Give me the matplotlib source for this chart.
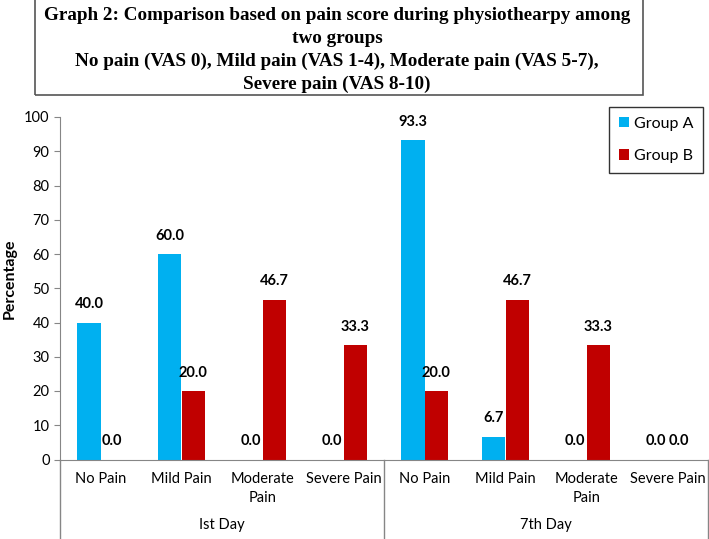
import numpy as np
import matplotlib.pyplot as plt
from matplotlib.patches import Rectangle
import matplotlib.transforms as mtransforms

categories = ["No Pain", "Mild Pain", "Moderate\nPain", "Severe Pain",
              "No Pain", "Mild Pain", "Moderate\nPain", "Severe Pain"]
days = ["Ist Day", "7th Day"]
group_a = [40.0, 60.0, 0.0, 0.0, 93.3, 6.7, 0.0, 0.0]
group_b = [0.0, 20.0, 46.7, 33.3, 20.0, 46.7, 33.3, 0.0]

title = ("Graph 2: Comparison based on pain score during physiothearpy among\n"
         "two groups\n"
         "No pain (VAS 0), Mild pain (VAS 1-4), Moderate pain (VAS 5-7),\n"
         "Severe pain (VAS 8-10)")

plt.rcParams["font.family"] = ["Lato", "DejaVu Sans"]

W, H = 709, 539
fig = plt.figure(figsize=(W / 100, H / 100), dpi=100)
ax = fig.add_axes([60 / W, (H - 459.5) / H, 648 / W, 342.5 / H])

x = np.arange(len(categories))
bw = 0.284
ca, cb = "#00B0F0", "#C00000"
ax.bar(x - bw / 2, group_a, bw, color=ca, label="Group A")
ax.bar(x + bw / 2, group_b, bw, color=cb, label="Group B")

for xs, vals in ((x - bw / 2, group_a), (x + bw / 2, group_b)):
    for xi, v in zip(xs, vals):
        ax.annotate(f"{v:.1f}", (xi, v), xytext=(0, 8), textcoords="offset points",
                    ha="center", va="bottom", fontsize=10.5, fontweight="bold")

ax.set_xlim(-0.5, len(categories) - 0.5)
ax.set_ylim(0, 100)
ax.set_yticks(np.arange(0, 101, 10))
ax.set_xticks(x)
ax.set_xticklabels(categories, fontsize=10.5, linespacing=1.5)
ax.tick_params(axis="x", length=0, pad=9)
ax.tick_params(axis="y", labelsize=10.5, length=4, color="#868686", direction="out")
for s in ("top", "right"):
    ax.spines[s].set_visible(False)
for s in ("left", "bottom"):
    ax.spines[s].set_color("#868686")

# group separators and day labels
tr = mtransforms.blended_transform_factory(ax.transData, ax.transAxes)
low = -(H - 459.5) / 342.5
for xs in (-0.5, 3.5, 7.5):
    ax.plot([xs, xs], [0, low], transform=tr, color="#868686", lw=1, clip_on=False)
for i, d in enumerate(days):
    ax.text(1.5 + 4 * i, -(525 - 459.5) / 342.5, d, transform=tr,
            ha="center", va="center", fontsize=10.5)

ax.set_ylabel("Percentage", fontsize=11.5, fontweight="bold")
ax.yaxis.set_label_coords(-43 / 648, (459.5 - 278.5) / 342.5)

leg = ax.legend(loc="upper left", bbox_to_anchor=(609 / W, 1 - 107 / H),
                bbox_transform=fig.transFigure, fontsize=11.5, frameon=True,
                fancybox=False, edgecolor="black", handlelength=0.65,
                handleheight=0.65, handletextpad=0.3, labelspacing=1.15,
                borderpad=0.6, borderaxespad=0)
leg.get_frame().set_linewidth(1)

# title box
fig.patches.append(Rectangle((35 / W, 1 - 95 / H), (643 - 35) / W, 100 / H,
                             transform=fig.transFigure, fill=False,
                             edgecolor="#555555", lw=1.2))
fig.text(337 / W, 1 - 50 / H, title, ha="center", va="center",
         fontsize=13.8, fontweight="bold", family="Liberation Serif",
         linespacing=1.45)

fig.savefig("out.png", dpi=100)
